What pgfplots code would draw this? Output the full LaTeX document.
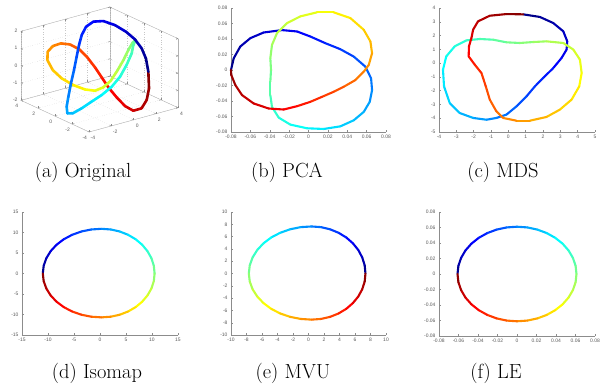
\documentclass[border=0pt]{standalone}
\usepackage{pgfplots}
\pgfplotsset{compat=1.18}
\usepackage{fontspec}
\newfontfamily\ticksf{Liberation Sans}
\newcommand\tickfont{\ticksf\fontsize{5}{6}\selectfont}
\begin{document}
\begin{tikzpicture}
\path[use as bounding box] (0,0) rectangle (608bp,390bp);
\pgfplotsset{
 base/.style={scale only axis, colormap/jet, clip=false, scaled ticks=false,
   tick label style={font=\tickfont, text=black!65},
   axis line style={black!45, line width=0.5bp},
   tick style={black!45, line width=0.4bp},
   major tick length=2bp, tick align=inside},
 flat2d/.style={base, axis lines*=left, anchor=south west},
 curve/.style={mesh, point meta=\coordindex, line width=2.1bp, line cap=round},
}
% (a) 3D original
\begin{axis}[base, at={(21bp,258bp)}, anchor=south west, width=157bp, height=125bp,
  view={-37.5}{30}, scale mode=stretch to fill,
  xmin=-4,xmax=4,ymin=-4,ymax=4,zmin=-2,zmax=2,
  xtick={-4,-2,0,2,4}, xticklabels={-4,-2,0,2,4},
  ytick={-4,-2,0,2,4}, yticklabels={-4,-2,0,2,4},
  ztick={-2,-1,0,1,2}, zticklabels={-2,-1,0,1,2},
  axis line style={black!30, line width=0.4bp},
  grid=major, grid style={dotted, black!22, line width=0.35bp}]
\addplot3[curve, line width=2.6bp] coordinates {
(2.88,-1.98,-0.18) (3.33,-1.11,0.31) (3.52,-0.36,0.69) (3.54,0.45,1.02) (3.37,1.27,1.30)
(3.03,2.13,1.55) (2.55,2.87,1.70) (1.96,3.27,1.68) (1.32,3.30,1.49) (0.71,3.01,1.18)
(0.12,2.56,0.81) (-0.52,2.00,0.38) (-1.26,1.35,-0.12) (-2.02,0.72,-0.62) (-2.75,0.07,-1.11)
(-3.28,-0.42,-1.48) (-3.53,-0.83,-1.73) (-3.23,-1.06,-1.73) (-2.50,-1.17,-1.54) (-1.64,-1.22,-1.29)
(-0.79,-1.28,-1.05) (0.15,-1.24,-0.74) (1.06,-1.03,-0.37) (1.94,-0.65,0.07) (2.74,-0.21,0.50)
(3.20,0.20,0.81) (3.55,0.38,0.99) (3.26,0.36,0.90) (2.69,0.13,0.62) (1.98,-0.23,0.25)
(1.17,-0.57,-0.14) (0.36,-0.85,-0.52) (-0.36,-0.92,-0.76) (-0.97,-0.74,-0.89) (-1.49,-0.23,-0.84)
(-1.95,0.53,-0.68) (-2.32,1.41,-0.43) (-2.46,2.28,-0.12) (-2.33,3.08,0.25) (-1.95,3.54,0.56)
(-1.41,3.64,0.77) (-0.84,3.45,0.87) (-0.36,2.99,0.83) (-0.05,2.30,0.65) (0.05,1.49,0.35)
(0.05,0.59,-0.02) (-0.01,-0.27,-0.39) (-0.07,-1.13,-0.76) (-0.04,-2.06,-1.13) (0.06,-2.93,-1.46)
(0.32,-3.55,-1.63) (0.89,-3.78,-1.54) (1.55,-3.52,-1.23) (2.19,-2.96,-0.80) (2.88,-1.98,-0.18)
};
\end{axis}
% (b) PCA
\begin{axis}[flat2d, at={(231bp,258bp)}, width=155bp, height=124bp,
  xmin=-0.08,xmax=0.08,ymin=-0.08,ymax=0.08,
  xtick={-0.08,-0.06,-0.04,-0.02,0,0.02,0.04,0.06,0.08},
  xticklabels={-0.08,-0.06,-0.04,-0.02,0,0.02,0.04,0.06,0.08},
  ytick={-0.08,-0.06,-0.04,-0.02,0,0.02,0.04,0.06,0.08},
  yticklabels={-0.08,-0.06,-0.04,-0.02,0,0.02,0.04,0.06,0.08}]
\addplot[curve] coordinates {
(-0.08,0) (-0.0772,0.0151) (-0.0704,0.0303) (-0.060,0.0411) (-0.0463,0.0484) (-0.0273,0.0515)
(-0.0118,0.0497) (0.0019,0.0432) (0.0174,0.0346) (0.0329,0.0268) (0.0467,0.0173) (0.0587,0.0043)
(0.0646,-0.0108) (0.0656,-0.0259) (0.0632,-0.0411) (0.0570,-0.0541) (0.0467,-0.0649) (0.0329,-0.0727)
(0.0157,-0.0761) (-0.0015,-0.0752) (-0.0187,-0.0705) (-0.0308,-0.0614) (-0.0377,-0.0476) (-0.0394,-0.0324)
(-0.0394,-0.0151) (-0.0387,0) (-0.0394,0.0151) (-0.0377,0.0324) (-0.0325,0.0476) (-0.0222,0.0605)
(-0.0084,0.0692) (0.0088,0.0744) (0.0260,0.0744) (0.0432,0.0670) (0.0570,0.0519) (0.0639,0.0368)
(0.0656,0.0216) (0.0622,0.0065) (0.0570,-0.0022) (0.0484,-0.0130) (0.0364,-0.0216) (0.0260,-0.0281)
(0.0140,-0.0346) (0.0019,-0.0411) (-0.0118,-0.0467) (-0.0256,-0.0510) (-0.0411,-0.0497) (-0.0566,-0.0432)
(-0.0686,-0.0324) (-0.0755,-0.0195) (-0.0797,-0.0065) (-0.08,0)
};
\end{axis}
% (c) MDS
\begin{axis}[flat2d, at={(439bp,258bp)}, width=156bp, height=124bp,
  xmin=-4,xmax=5,ymin=-5,ymax=4,
  xtick={-4,-3,-2,-1,0,1,2,3,4,5}, xticklabels={-4,-3,-2,-1,0,1,2,3,4,5},
  ytick={-5,-4,-3,-2,-1,0,1,2,3,4}, yticklabels={-5,-4,-3,-2,-1,0,1,2,3,4}]
\addplot[curve] coordinates {
(0.855,3.54) (1.82,3.35) (2.59,2.91) (3.17,2.31) (3.40,1.58) (3.36,0.98) (3.07,0.37) (2.59,-0.36)
(2.01,-1.08) (1.53,-1.69) (1.05,-2.41) (0.47,-3.14) (-0.11,-3.74) (-0.69,-3.98) (-1.26,-4.11)
(-2.03,-3.98) (-2.81,-3.62) (-3.38,-2.90) (-3.71,-1.69) (-3.77,-0.48) (-3.58,0.49) (-3.09,1.22)
(-2.42,1.65) (-1.65,1.75) (-0.88,1.70) (-0.11,1.51) (0.66,1.46) (1.43,1.53) (2.20,1.58) (3.17,1.46)
(3.75,0.98) (4.13,0.25) (4.23,-0.72) (4.09,-1.69) (3.65,-2.65) (2.97,-3.38) (2.20,-3.91) (1.24,-4.18)
(0.47,-4.18) (-0.30,-3.98) (-0.69,-3.50) (-1.07,-2.65) (-1.30,-1.69) (-1.55,-0.72) (-1.94,-0.11)
(-2.29,0.49) (-2.27,1.22) (-2.13,1.82) (-2.03,2.43) (-1.75,3.03) (-1.07,3.44) (-0.11,3.56) (0.855,3.54)
};
\end{axis}
% (d) Isomap
\begin{axis}[flat2d, at={(22bp,55bp)}, width=156bp, height=123bp,
  xmin=-15,xmax=15,ymin=-15,ymax=15,
  xtick={-15,-10,-5,0,5,10,15}, xticklabels={-15,-10,-5,0,5,10,15},
  ytick={-15,-10,-5,0,5,10,15}, yticklabels={-15,-10,-5,0,5,10,15}]
\addplot[curve] coordinates {
(-11.0,0) (-10.83,1.90) (-10.32,3.73) (-9.49,5.45) (-8.36,7.01) (-6.97,8.35) (-5.35,9.44)
(-3.56,10.25) (-1.67,10.74) (0.3,10.9) (2.07,10.74) (3.79,10.25) (5.4,9.44) (6.86,8.35)
(8.11,7.01) (9.13,5.45) (9.89,3.73) (10.35,1.90) (10.5,0) (10.35,-1.86) (9.89,-3.66)
(9.13,-5.35) (8.11,-6.88) (6.86,-8.20) (5.4,-9.27) (3.79,-10.06) (2.07,-10.54) (0.3,-10.7)
(-1.67,-10.54) (-3.56,-10.06) (-5.35,-9.27) (-6.97,-8.20) (-8.36,-6.88) (-9.49,-5.35)
(-10.32,-3.66) (-10.83,-1.86) (-11.0,0)
};
\end{axis}
% (e) MVU
\begin{axis}[flat2d, at={(231bp,55bp)}, width=155bp, height=123bp,
  xmin=-10,xmax=10,ymin=-10,ymax=10,
  xtick={-10,-8,-6,-4,-2,0,2,4,6,8,10}, xticklabels={-10,-8,-6,-4,-2,0,2,4,6,8,10},
  ytick={-10,-8,-6,-4,-2,0,2,4,6,8,10}, yticklabels={-10,-8,-6,-4,-2,0,2,4,6,8,10}]
\addplot[curve] coordinates {
(7.35,0) (7.25,1.33) (6.93,2.62) (6.42,3.83) (5.72,4.92) (4.87,5.86) (3.88,6.62) (2.78,7.19)
(1.61,7.54) (0.4,7.65) (-1.01,7.54) (-2.37,7.19) (-3.65,6.62) (-4.81,5.86) (-5.80,4.92)
(-6.61,3.83) (-7.21,2.62) (-7.58,1.33) (-7.7,0) (-7.58,-1.31) (-7.21,-2.57) (-6.61,-3.75)
(-5.80,-4.82) (-4.81,-5.75) (-3.65,-6.50) (-2.37,-7.05) (-1.01,-7.39) (0.4,-7.5) (1.61,-7.39)
(2.78,-7.05) (3.88,-6.50) (4.87,-5.75) (5.72,-4.82) (6.42,-3.75) (6.93,-2.57) (7.25,-1.31) (7.35,0)
};
\end{axis}
% (f) LE
\begin{axis}[flat2d, at={(439bp,54bp)}, width=156bp, height=124bp,
  xmin=-0.08,xmax=0.08,ymin=-0.08,ymax=0.08,
  xtick={-0.08,-0.06,-0.04,-0.02,0,0.02,0.04,0.06,0.08},
  xticklabels={-0.08,-0.06,-0.04,-0.02,0,0.02,0.04,0.06,0.08},
  ytick={-0.08,-0.06,-0.04,-0.02,0,0.02,0.04,0.06,0.08},
  yticklabels={-0.08,-0.06,-0.04,-0.02,0,0.02,0.04,0.06,0.08}]
\addplot[curve] coordinates {
(-0.061,0) (-0.0601,0.0106) (-0.0573,0.0209) (-0.0528,0.0305) (-0.0467,0.0392) (-0.0392,0.0467)
(-0.0305,0.0528) (-0.0209,0.0573) (-0.0106,0.0601) (0,0.061) (0.0106,0.0601) (0.0209,0.0573)
(0.0305,0.0528) (0.0392,0.0467) (0.0467,0.0392) (0.0528,0.0305) (0.0573,0.0209) (0.0601,0.0106)
(0.061,0) (0.0601,-0.0106) (0.0573,-0.0209) (0.0528,-0.0305) (0.0467,-0.0392) (0.0392,-0.0467)
(0.0305,-0.0528) (0.0209,-0.0573) (0.0106,-0.0601) (0,-0.061) (-0.0106,-0.0601) (-0.0209,-0.0573)
(-0.0305,-0.0528) (-0.0392,-0.0467) (-0.0467,-0.0392) (-0.0528,-0.0305) (-0.0573,-0.0209)
(-0.0601,-0.0106) (-0.061,0)
};
\end{axis}
\begin{scope}[font=\fontsize{20.5}{24}\selectfont]
\node[anchor=base] at (83bp,212bp) {(a) Original};
\node[anchor=base] at (287bp,212bp) {(b) PCA};
\node[anchor=base] at (503bp,212bp) {(c) MDS};
\node[anchor=base] at (97bp,11.5bp) {(d) Isomap};
\node[anchor=base] at (293bp,11.5bp) {(e) MVU};
\node[anchor=base] at (496bp,11.5bp) {(f) LE};
\end{scope}
\end{tikzpicture}
\end{document}
